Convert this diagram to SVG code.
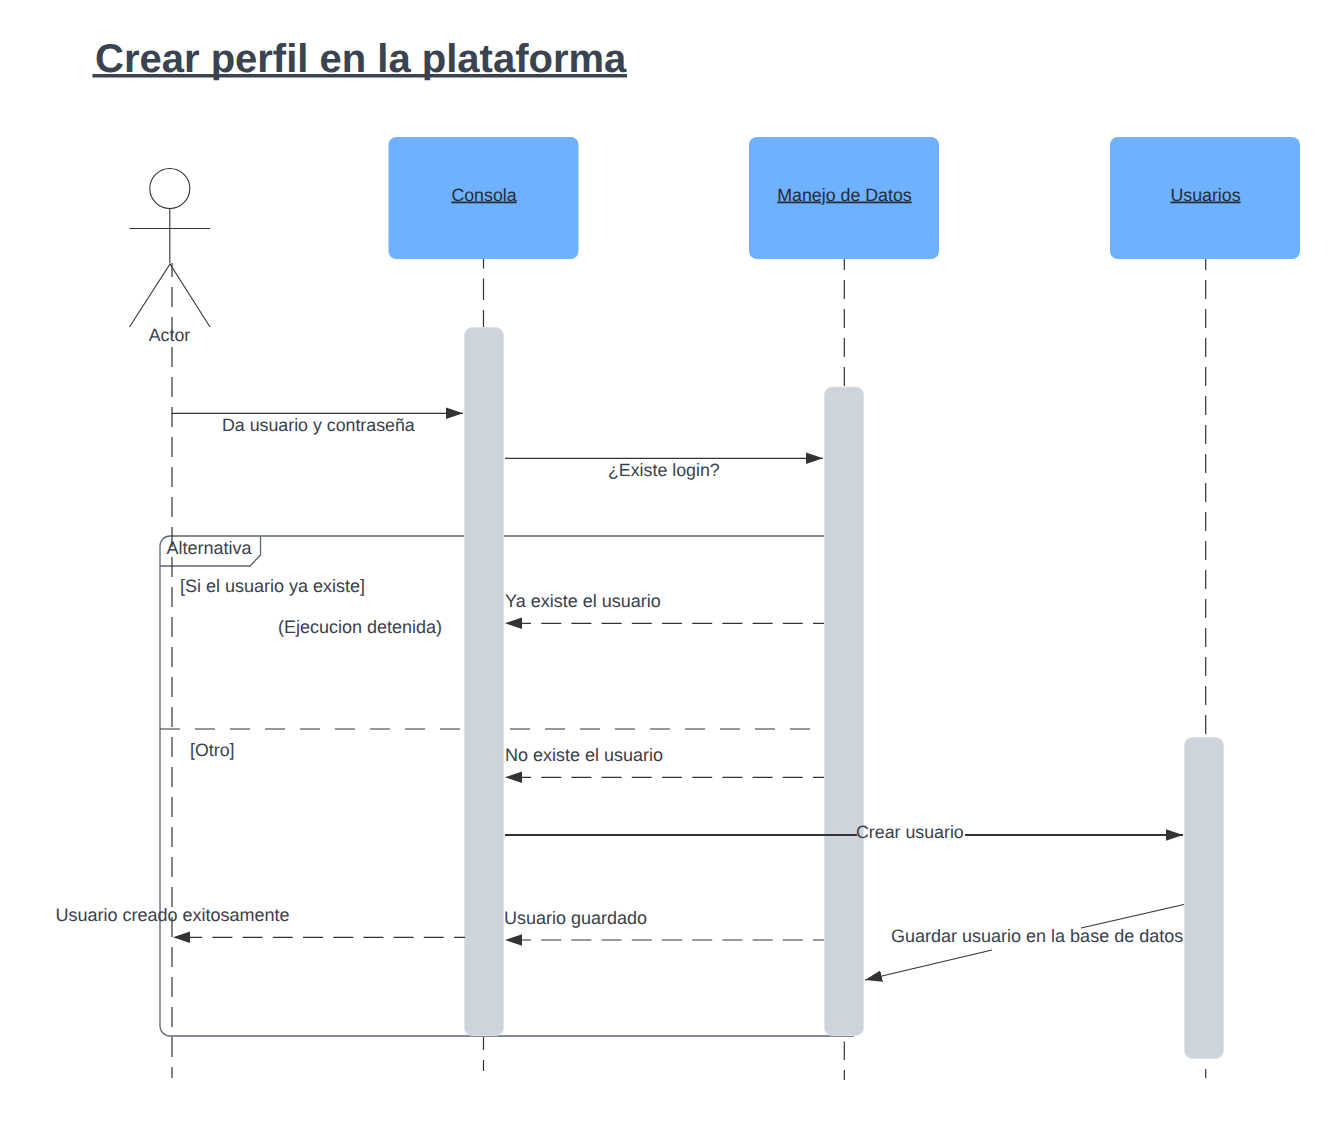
<svg xmlns="http://www.w3.org/2000/svg" width="1340" height="1121" viewBox="0 0 1340 1121">
<style>
text{font-family:"Liberation Sans",Arial,sans-serif;font-size:18px;fill:#3a414c;text-rendering:geometricPrecision}
.nar{font-size:17.8px}
.hd{font-size:17.8px;text-decoration:underline;text-decoration-skip-ink:none;text-anchor:middle;fill:#282c33}
.box{fill:#6db1ff}
.bar{fill:#ced4db;stroke:#dfe3e8;stroke-width:1}
.life{stroke:#333;stroke-width:1.2;fill:none}
.msg{stroke:#333;stroke-width:1.2;fill:none}
.dash{stroke:#333;stroke-width:1.2;fill:none;stroke-dasharray:20 10.2;stroke-dashoffset:9}
.frame{stroke:#5e6672;stroke-width:1.3;fill:none}
.stick{stroke:#333;stroke-width:1.1;fill:none}
</style>
<defs>
<marker id="arr" markerUnits="userSpaceOnUse" markerWidth="18" markerHeight="12" refX="17" refY="6" orient="auto"><path d="M0 0.300L17 6L0 11.700Z" fill="#333"/></marker>
</defs>
<rect width="1340" height="1121" fill="#fff"/>
<g id="title"><text x="95" y="72" style="font-size:40px;font-weight:bold;fill:#3a4350">Crear perfil en la plataforma</text><rect x="92.500" y="74" width="534.500" height="3.500" fill="#3a4350"/></g>
<g id="frame-alternativa">
<path class="frame" d="M854 536H170a10 10 0 0 0-10 10V1026a10 10 0 0 0 10 10H854"/>
<path class="frame" d="M160 566H250L260.500 555V536"/>
<path d="M160 729H810" stroke="#333" stroke-width="1.2" stroke-dasharray="20 15" fill="none"/>
<text x="166.500" y="553.500">Alternativa</text>
<text x="180" y="591.500">[Si el usuario ya existe]</text>
<text x="278" y="632.500">(Ejecucion detenida)</text>
<text class="nar" x="190" y="755.500">[Otro]</text>
</g>
<g id="lifelines">
<path class="life" d="M172 263V1078" stroke-dasharray="20 10" stroke-dashoffset="6"/>
<path class="life" d="M483.500 259V327" stroke-dasharray="21.500 10" stroke-dashoffset="12"/>
<path class="life" d="M483.500 1037V1050M483.500 1060V1071"/>
<path class="life" d="M844.300 259V387" stroke-dasharray="19 10" stroke-dashoffset="8"/>
<path class="life" d="M844.300 1041.500V1060M844.300 1070V1080"/>
<path class="life" d="M1205.700 259V738" stroke-dasharray="19 10" stroke-dashoffset="8"/>
<path class="life" d="M1205.700 1069V1078"/>
</g>
<g id="actor">
<circle class="stick" cx="169.800" cy="188.500" r="20"/>
<path class="stick" d="M169.800 208.500V263M129.500 228.500H210M129.500 327L170 264L210 327"/>
<text class="nar" x="169.500" y="340.500" text-anchor="middle">Actor</text>
</g>
<g id="consola"><rect class="box" x="388.500" y="137" width="190" height="122" rx="8"/><text class="hd" x="484" y="200.500">Consola</text></g>
<g id="manejo"><rect class="box" x="749" y="137" width="190" height="122" rx="8"/><text class="hd" x="844.500" y="200.500">Manejo de Datos</text></g>
<g id="usuarios"><rect class="box" x="1110" y="137" width="190" height="122" rx="8"/><text class="hd" x="1205.500" y="200.500">Usuarios</text></g>
<g id="bar-consola"><rect class="bar" x="464.500" y="327.500" width="39" height="708" rx="8"/></g>
<g id="bar-manejo"><rect class="bar" x="824.500" y="387" width="39" height="648.500" rx="8"/></g>
<g id="bar-usuarios"><rect class="bar" x="1184.500" y="737.500" width="39" height="321" rx="8"/></g>
<g id="connectors">
<path class="msg" d="M172 413.300H463" marker-end="url(#arr)"/>
<path class="msg" d="M505 458.300H823" marker-end="url(#arr)"/>
<path class="dash" d="M824 623.300H505" marker-end="url(#arr)"/>
<path class="dash" d="M824 777.300H505" marker-end="url(#arr)"/>
<path d="M505 835H857M965 835H1183" stroke="#333" stroke-width="2.200" fill="none" marker-end="url(#arr)"/>
<path class="dash" d="M824 940H505" marker-end="url(#arr)"/>
<path class="dash" d="M465 937.300H173" marker-end="url(#arr)"/>
<path class="msg" d="M1184 904.500L1081 928M992 950L865 980" marker-end="url(#arr)"/>
</g>
<g id="labels">
<text class="nar" x="222" y="430.500">Da usuario y contraseña</text>
<text class="nar" x="608" y="475.500">¿Existe login?</text>
<text x="505" y="607">Ya existe el usuario</text>
<text x="505" y="761">No existe el usuario</text>
<text class="nar" x="856" y="838">Crear usuario</text>
<text x="504" y="924">Usuario guardado</text>
<text x="55.500" y="921">Usuario creado exitosamente</text>
<text x="891" y="941.500">Guardar usuario en la base de datos</text>
</g>
</svg>
